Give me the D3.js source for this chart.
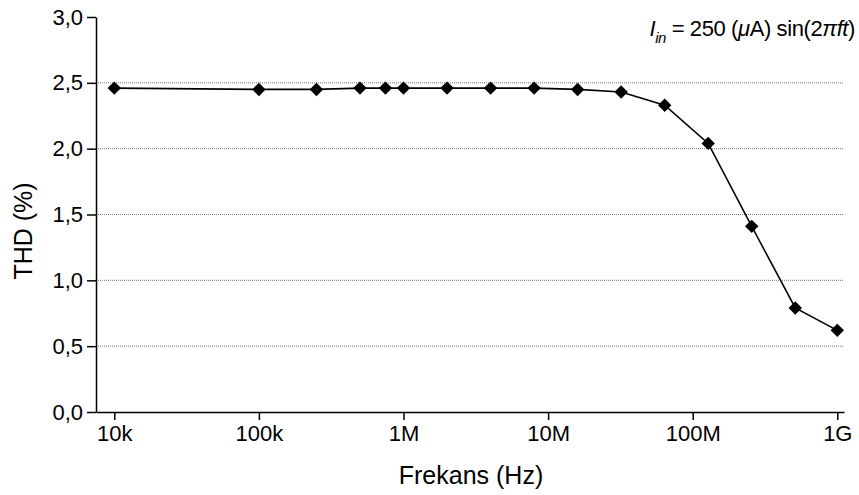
<!DOCTYPE html>
<html>
<head>
<meta charset="utf-8">
<script src="https://cdn.jsdelivr.net/npm/d3@7"></script>
<style>
  body { margin: 0; background: #fff; }
  svg { font-family: "Liberation Sans", Arial, sans-serif; }
  .tick text { font-size: 22px; fill: #000; }
  .tick line, .domain { stroke: #000; stroke-width: 1.5px; }
</style>
</head>
<body>
<div id="chart"></div>
<script>
// measured frequencies (Hz) and THD (%)
const freqs = [1e4, 1e5, 2.5e5, 5e5, 7.5e5, 1e6, 2e6, 4e6, 8e6, 1.6e7, 3.2e7, 6.4e7, 1.28e8, 2.56e8, 5.12e8, 1e9];
const thd = [2.46, 2.45, 2.45, 2.46, 2.46, 2.46, 2.46, 2.46, 2.46, 2.45, 2.43, 2.33, 2.04, 1.41, 0.79, 0.62];

const xTicks = [1e4, 1e5, 1e6, 1e7, 1e8, 1e9];
const xTickLabels = ["10k", "100k", "1M", "10M", "100M", "1G"];
const yTicks = [0, 0.5, 1.0, 1.5, 2.0, 2.5, 3.0];
const gridValues = [0.5, 1.0, 1.5, 2.0, 2.5];

const size = {width: 859, height: 495};
const margin = {top: 17, right: 15, bottom: 83, left: 96};
const width = size.width - margin.left - margin.right;
const height = size.height - margin.top - margin.bottom;

const svg = d3.select("#chart").append("svg")
    .attr("width", size.width)
    .attr("height", size.height);

const g = svg.append("g")
    .attr("transform", "translate(" + margin.left + "," + margin.top + ")");

// log axis slightly padded beyond 10k .. 1G
const xScale = d3.scaleLog()
    .domain([Math.pow(10, 3.8734), Math.pow(10, 9.0463)])
    .range([0, width]);
const yScale = d3.scaleLinear()
    .domain([0, 3])
    .range([height, 0]);

// dotted grid lines
g.selectAll(".grid")
    .data(gridValues)
    .join("line")
    .attr("class", "grid")
    .attr("x1", 0)
    .attr("x2", width)
    .attr("y1", d => yScale(d))
    .attr("y2", d => yScale(d))
    .attr("stroke", "#777")
    .attr("stroke-width", 1)
    .attr("stroke-dasharray", "1,1");

// axes
const fmtY = d => d3.format(".1f")(d).replace(".", ",");
g.append("g")
    .attr("class", "yAxisG")
    .call(d3.axisLeft(yScale).tickValues(yTicks).tickFormat(fmtY).tickSize(9).tickSizeOuter(0).tickPadding(4));

g.append("g")
    .attr("class", "xAxisG")
    .attr("transform", "translate(0," + height + ")")
    .call(d3.axisBottom(xScale).tickValues(xTicks)
        .tickFormat((d, i) => xTickLabels[i]).tickSize(8).tickSizeOuter(0).tickPadding(5));

// data line
const line = d3.line()
    .x((d, i) => xScale(freqs[i]))
    .y(d => yScale(d));

g.append("path")
    .datum(thd)
    .attr("fill", "none")
    .attr("stroke", "#000")
    .attr("stroke-width", 1.6)
    .attr("d", line);

// diamond markers
const diamond = d3.symbol().type(d3.symbolSquare).size(90);
g.selectAll(".pt")
    .data(thd)
    .join("path")
    .attr("class", "pt")
    .attr("d", diamond)
    .attr("fill", "#000")
    .attr("transform", (d, i) => "translate(" + xScale(freqs[i]) + "," + yScale(d) + ") rotate(45)");

// axis labels
svg.append("text")
    .attr("x", 471)
    .attr("y", 484)
    .attr("font-size", 25)
    .attr("text-anchor", "middle")
    .text("Frekans (Hz)");

svg.append("text")
    .attr("transform", "translate(32,231) rotate(-90)")
    .attr("font-size", 25)
    .attr("text-anchor", "middle")
    .text("THD (%)");

// annotation
const note = svg.append("text")
    .attr("x", 855)
    .attr("y", 36)
    .attr("font-size", 22)
    .attr("letter-spacing", -0.4)
    .attr("text-anchor", "end");
note.append("tspan").attr("font-style", "italic").text("I");
note.append("tspan").attr("font-style", "italic").attr("font-size", 15).attr("dy", 7).text("in");
note.append("tspan").attr("dy", -7).text(" = 250 (");
note.append("tspan").attr("font-style", "italic").text("\u03bc");
note.append("tspan").text("A) sin(2");
note.append("tspan").attr("font-style", "italic").text("\u03c0ft");
note.append("tspan").text(")");
</script>
</body>
</html>
